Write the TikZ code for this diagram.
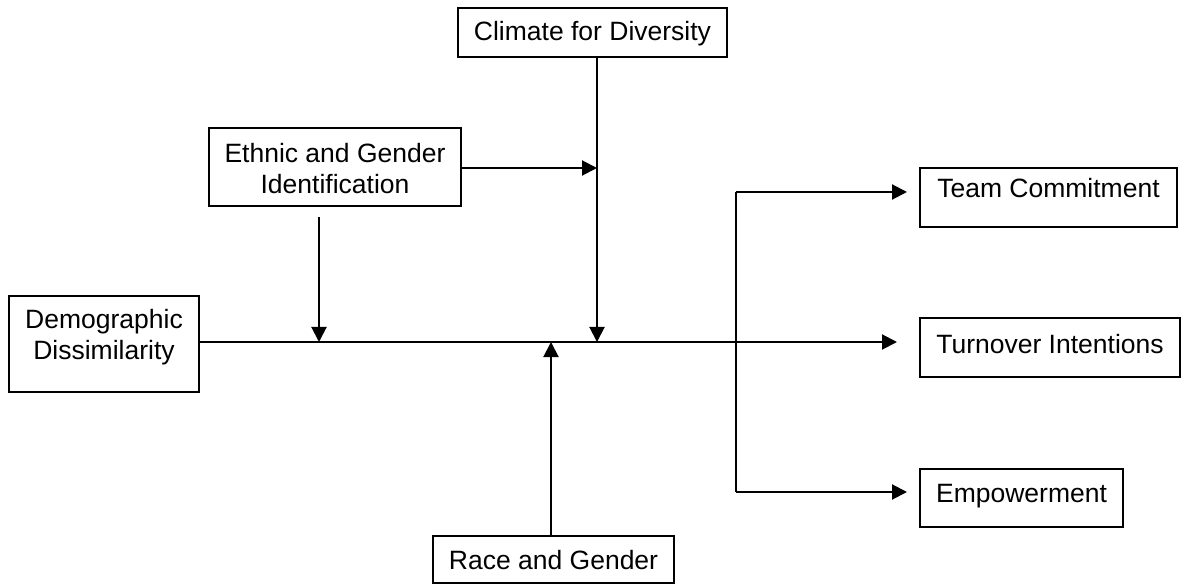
\documentclass[tikz,border=0pt]{standalone}
\usepackage{fontspec}
\setmainfont{Liberation Sans}
\usetikzlibrary{arrows.meta}
\begin{document}
\begin{tikzpicture}[x=1pt,y=-1pt,
  every node/.style={font=\fontsize{26.5}{31}\selectfont},
  box/.style={draw,line width=2pt,inner sep=0pt,align=center},
  plain/.style={inner sep=0pt,align=center},
  conn/.style={line width=2pt},
  arr/.style={line width=2pt,-{Triangle[length=15pt,width=15pt]}}]
\useasboundingbox (0,0) rectangle (1186,585);
% boxes
\node[box,minimum width=269pt,minimum height=49pt,text height=20pt,text depth=3pt] (clim) at (592.5,32.5) {Climate for Diversity};
\node[box,minimum width=252pt,minimum height=78pt] (eth) at (335,167) {};
\node[plain] (etht) at (335,169) {Ethnic and Gender\\Identification};
\node[box,minimum width=190pt,minimum height=96pt] (dem) at (104,344) {};
\node[plain] (demt) at (104,337) {Demographic\\Dissimilarity};
\node[box,minimum width=257pt,minimum height=59pt,text height=20pt,text depth=19pt] (team) at (1048.5,197.5) {Team Commitment};
\node[box,minimum width=260pt,minimum height=59pt,text height=20pt,text depth=9pt] (turn) at (1050,347.5) {Turnover Intentions};
\node[box,minimum width=203pt,minimum height=58pt,text height=20pt,text depth=11pt] (emp) at (1021.5,498) {Empowerment};
\node[box,minimum width=241pt,minimum height=47pt,text height=20pt,text depth=0pt] (race) at (553.5,559.5) {Race and Gender};
% coordinates
\coordinate (ml) at (0,342);
\coordinate (bt) at (736,192);
\coordinate (bb) at (736,492);
\coordinate (e1) at (319,217);
\coordinate (e2) at (319,342);
\coordinate (c1) at (597,0);
\coordinate (c2) at (597,342);
\coordinate (eh) at (597,168);
\coordinate (r2) at (551,342);
% connectors
\draw[arr,shorten >=22pt] (dem.east |- ml) -- (turn.west |- ml);
\draw[conn] (bt) -- (bb);
\draw[arr,shorten >=12pt] (bt) -- (team.west |- bt);
\draw[arr,shorten >=12pt] (bb) -- (emp.west |- bb);
\draw[arr] (e1) -- (e2);
\draw[arr] (eth.east |- eh) -- (eh);
\draw[arr] (clim.south -| c1) -- (c2);
\draw[arr] (race.north -| r2) -- (r2);
\end{tikzpicture}
\end{document}
